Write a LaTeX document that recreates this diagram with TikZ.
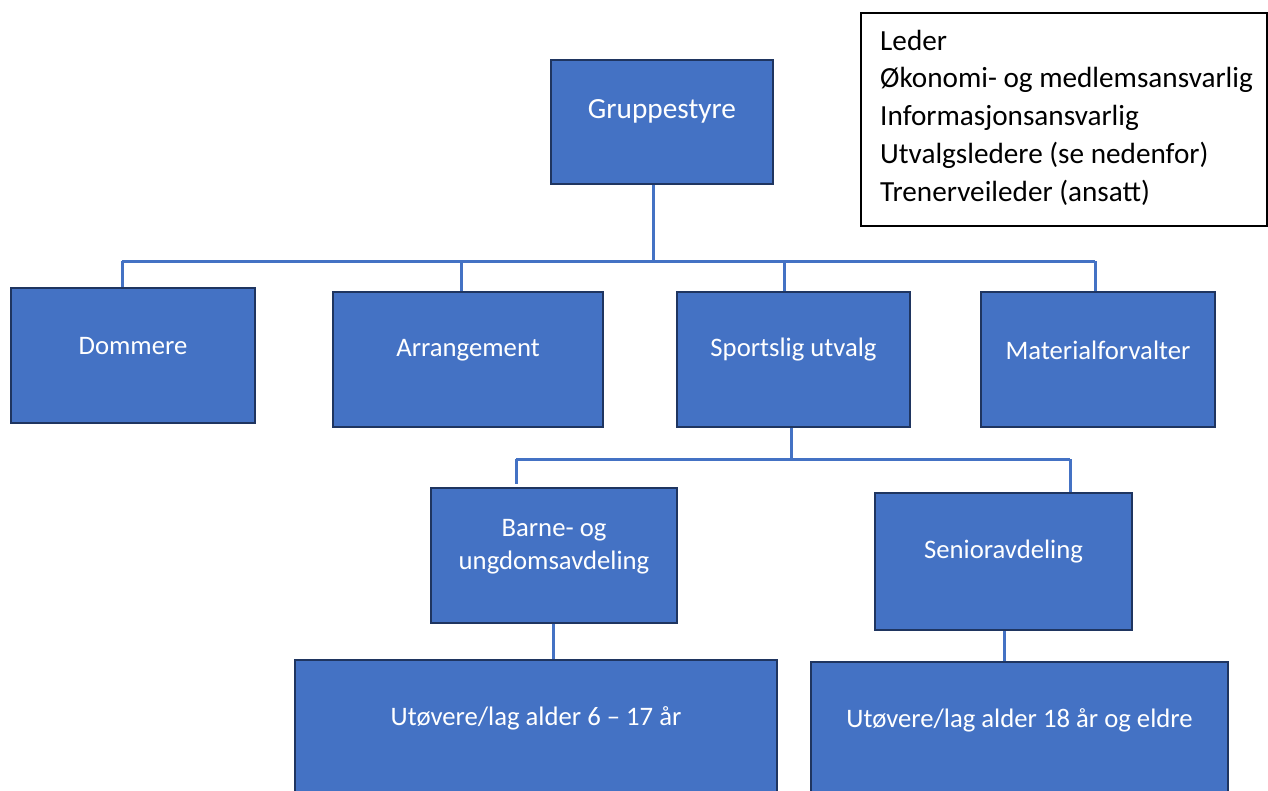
\documentclass[tikz,border=0pt]{standalone}
\usepackage{fontspec}
\setmainfont{Carlito}
\definecolor{boxfill}{HTML}{4472C4}
\definecolor{boxline}{HTML}{1F3560}
\definecolor{conn}{HTML}{4472C4}
\begin{document}
\begin{tikzpicture}[x=1pt,y=-1pt,
  orgbox/.style={draw=boxline, fill=boxfill, line width=2pt, rectangle, inner sep=0pt},
  orgtxt/.style={text=white, font=\fontsize{26.7}{33}\selectfont, align=center, inner sep=0pt},
  conline/.style={draw=conn, line width=3pt},
  legtxt/.style={font=\fontsize{29.2}{36}\selectfont, inner sep=0pt, anchor=base west}]
\clip (0,0) rectangle (1268,790);
\fill[white] (0,0) rectangle (1268,790);
% boxes
\node[orgbox, minimum width=222pt, minimum height=124pt] (grp) at (662,122) {};
\node[orgbox, minimum width=244pt, minimum height=135pt] (dom) at (133,355.5) {};
\node[orgbox, minimum width=270pt, minimum height=135pt] (arr) at (468,359.5) {};
\node[orgbox, minimum width=233pt, minimum height=135pt] (spo) at (793.5,359.5) {};
\node[orgbox, minimum width=234pt, minimum height=135pt] (mat) at (1098,359.5) {};
\node[orgbox, minimum width=246pt, minimum height=135pt] (bar) at (554,555.5) {};
\node[orgbox, minimum width=257pt, minimum height=137pt] (sen) at (1003.5,561.5) {};
\node[orgbox, minimum width=482pt, minimum height=160pt] (ut1) at (536,740) {};
\node[orgbox, minimum width=417pt, minimum height=160pt] (ut2) at (1019.5,742) {};
% texts
\node[orgtxt, font=\fontsize{29.3}{33}\selectfont] (tgrp) at (662,111) {Gruppestyre};
\node[orgtxt] (tdom) at (133,346) {Dommere};
\node[orgtxt] (tarr) at (468,350) {Arrangement};
\node[orgtxt] (tspo) at (793.5,350) {Sportslig utvalg};
\node[orgtxt] (tmat) at (1098,350) {Materialforvalter};
\node[orgtxt] (tbar) at (554,546.5) {Barne- og\\ungdomsavdeling};
\node[orgtxt] (tsen) at (1003.5,552) {Senioravdeling};
\node[orgtxt] (tut1) at (536,718) {Utøvere/lag alder 6 – 17 år};
\node[orgtxt] (tut2) at (1019.5,720) {Utøvere/lag alder 18 år og eldre};
% legend
\node[draw=black, line width=1.5pt, minimum width=406pt, minimum height=213pt, inner sep=0pt] (leg) at (1064,119.5) {};
\node[legtxt] (l1) at (880,50) {Leder};
\node[legtxt] (l2) at (880,87.75) {Økonomi- og medlemsansvarlig};
\node[legtxt] (l3) at (880,125.5) {Informasjonsansvarlig};
\node[legtxt] (l4) at (880,163.25) {Utvalgsledere (se nedenfor)};
\node[legtxt] (l5) at (880,201) {Trenerveileder (ansatt)};
% connectors
\coordinate (j1) at (653,261);
\coordinate (hl) at (122,261);
\coordinate (hr) at (1095,261);
\draw[conline] (grp.south -| j1) -- (j1);
\draw[conline] (hl) -- (hr);
\draw[conline] (hl) -- (dom.north -| hl);
\draw[conline] (461,261) -- (arr.north -| 461,0);
\draw[conline] (784,261) -- (spo.north -| 784,0);
\draw[conline] (hr) -- (mat.north -| hr);
\coordinate (j2) at (791,459);
\coordinate (hl2) at (516,459);
\coordinate (hr2) at (1070,459);
\draw[conline] (spo.south -| j2) -- (j2);
\draw[conline] (hl2) -- (hr2);
\draw[conline] (hl2) -- (516,484);
\draw[conline] (hr2) -- (sen.north -| hr2);
\draw[conline] (bar.south -| 553,0) -- (ut1.north -| 553,0);
\draw[conline] (sen.south -| 1004,0) -- (ut2.north -| 1004,0);
\end{tikzpicture}
\end{document}
